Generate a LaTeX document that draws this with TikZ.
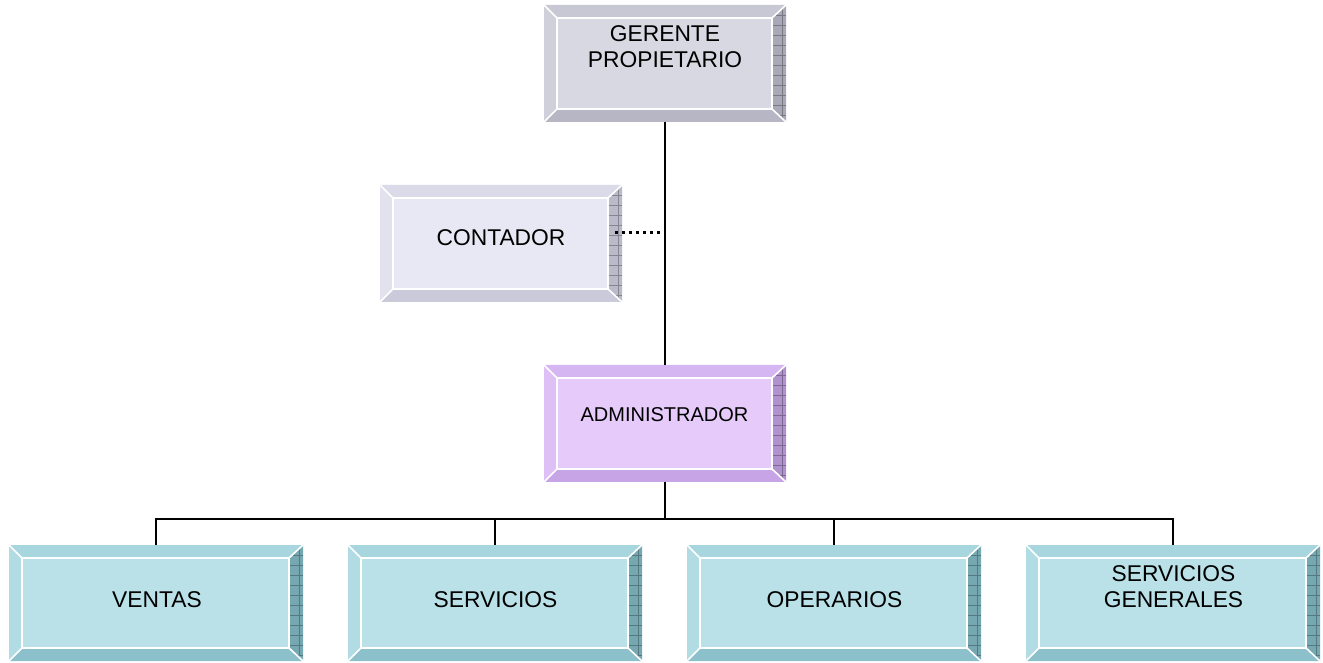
\documentclass[tikz,border=0pt]{standalone}
\usepackage{fontspec}
\setmainfont{Liberation Sans}
\usetikzlibrary{calc}
\definecolor{gFace}{RGB}{216,216,226}\definecolor{gTop}{RGB}{200,200,212}\definecolor{gLeft}{RGB}{208,208,218}\definecolor{gBot}{RGB}{182,182,196}\definecolor{gRight}{RGB}{168,168,182}
\definecolor{cFace}{RGB}{232,232,244}\definecolor{cTop}{RGB}{218,218,232}\definecolor{cLeft}{RGB}{226,226,238}\definecolor{cBot}{RGB}{202,202,218}\definecolor{cRight}{RGB}{186,186,202}
\definecolor{aFace}{RGB}{229,202,250}\definecolor{aTop}{RGB}{214,182,242}\definecolor{aLeft}{RGB}{222,192,246}\definecolor{aBot}{RGB}{198,164,230}\definecolor{aRight}{RGB}{176,146,206}
\definecolor{tFace}{RGB}{185,225,231}\definecolor{tTop}{RGB}{168,214,222}\definecolor{tLeft}{RGB}{178,220,227}\definecolor{tBot}{RGB}{140,192,202}\definecolor{tRight}{RGB}{118,168,178}
\newcommand\bevelbox[5]{%
  \fill[#2] (#1.north west) -- (#1.north east) -- ($(#1.north east)+(-14,-13)$) -- ($(#1.north west)+(13,-13)$) -- cycle;
  \fill[#3] (#1.north west) -- ($(#1.north west)+(13,-13)$) -- ($(#1.south west)+(13,13)$) -- (#1.south west) -- cycle;
  \fill[#4] (#1.south west) -- ($(#1.south west)+(13,13)$) -- ($(#1.south east)+(-14,13)$) -- (#1.south east) -- cycle;
  \fill[#5] (#1.north east) -- ($(#1.north east)+(-14,-13)$) -- ($(#1.south east)+(-14,13)$) -- (#1.south east) -- cycle;
  \begin{scope}
    \clip (#1.north east) -- ($(#1.north east)+(-14,-13)$) -- ($(#1.south east)+(-14,13)$) -- (#1.south east) -- cycle;
    \foreach \k in {1,...,11}{\draw[#5!72!black, line width=0.6] ($(#1.north east)+(-14,-10*\k)$) -- ++(14,0);}
    \draw[#5!72!black, line width=0.6] ($(#1.north east)+(-4,0)$) -- ($(#1.south east)+(-4,0)$);
  \end{scope}
  \draw[white, line width=1.6] ($(#1.north west)+(13,-13)$) rectangle ($(#1.south east)+(-14,13)$);
  \draw[white, line width=1.6] (#1.north west) -- ($(#1.north west)+(13,-13)$)
     (#1.north east) -- ($(#1.north east)+(-14,-13)$)
     (#1.south west) -- ($(#1.south west)+(13,13)$)
     (#1.south east) -- ($(#1.south east)+(-14,13)$);
}
\tikzset{
  box/.style={rectangle, draw=none, inner sep=0, outer sep=0},
  upbox/.style={box, minimum width=242, minimum height=117},
  lowbox/.style={box, minimum width=294, minimum height=116},
  lbl/.style={inner sep=0, outer sep=0, align=center, font=\fontsize{22.8}{26}\selectfont},
  conn/.style={draw=black, line width=1.2},
}
\begin{document}
\begin{tikzpicture}[x=1pt,y=1pt]
\useasboundingbox (0,0) rectangle (1323,662);
% boxes
\node[upbox, fill=gFace] (ger) at (665,598.5) {};
\node[upbox, fill=cFace] (con) at (501,418.5) {};
\node[upbox, fill=aFace] (adm) at (665,238.5) {};
\node[lowbox, fill=tFace] (ven) at (156,59) {};
\node[lowbox, fill=tFace] (ser) at (495,59) {};
\node[lowbox, fill=tFace] (ope) at (834,59) {};
\node[lowbox, fill=tFace] (sg) at (1173,59) {};
\bevelbox{ger}{gTop}{gLeft}{gBot}{gRight}
\bevelbox{con}{cTop}{cLeft}{cBot}{cRight}
\bevelbox{adm}{aTop}{aLeft}{aBot}{aRight}
\bevelbox{ven}{tTop}{tLeft}{tBot}{tRight}
\bevelbox{ser}{tTop}{tLeft}{tBot}{tRight}
\bevelbox{ope}{tTop}{tLeft}{tBot}{tRight}
\bevelbox{sg}{tTop}{tLeft}{tBot}{tRight}
% labels
\node[lbl] (gerT) at (665,615.5) {GERENTE\\PROPIETARIO};
\node[lbl] (conT) at (501,424) {CONTADOR};
\node[lbl, font=\fontsize{20}{24}\selectfont] (admT) at (664.5,247.5) {ADMINISTRADOR};
\node[lbl] (venT) at (157,62) {VENTAS};
\node[lbl] (serT) at (495.5,62) {SERVICIOS};
\node[lbl] (opeT) at (834.5,62) {OPERARIOS};
\node[lbl] (sgT) at (1173.5,75.5) {SERVICIOS\\GENERALES};
% connectors
\coordinate (dotEnd) at (661,429.5);
\draw[line width=3.2, dash pattern=on 3.3 off 3.7] ($(con.east)+(-7,11)$) -- (dotEnd);
\draw[conn] (ger.south) -- (adm.north);
\draw[conn] (adm.south) -- ++(0,-37) coordinate (bus);
\draw[conn] (bus) -| (ven.north);
\draw[conn] (bus) -| (ser.north);
\draw[conn] (bus) -| (ope.north);
\draw[conn] (bus) -| (sg.north);
\end{tikzpicture}
\end{document}
